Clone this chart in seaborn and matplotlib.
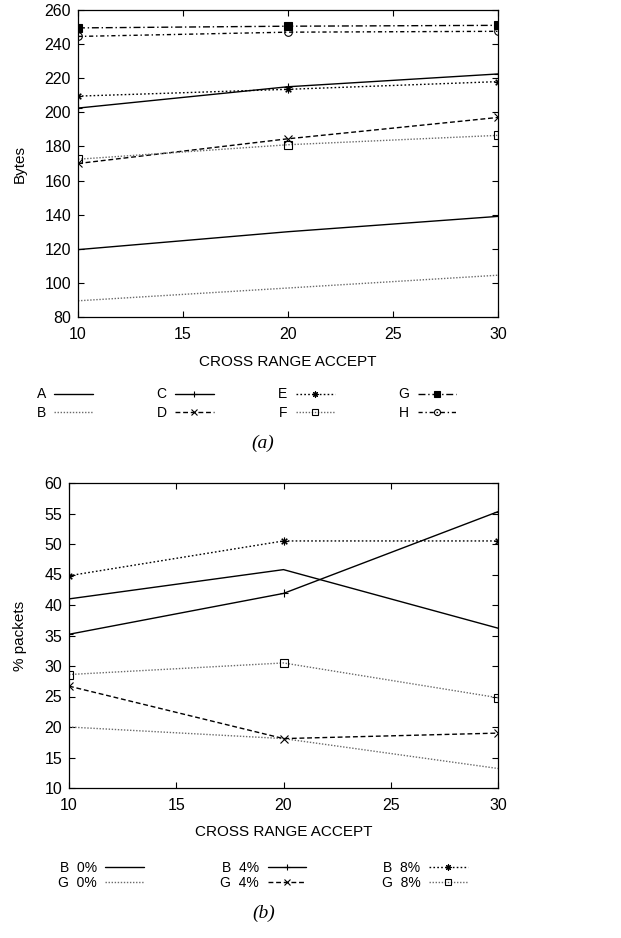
import matplotlib
matplotlib.use("Agg")
import matplotlib.pyplot as plt
import seaborn as sns

# ---------------- data ----------------
x_vals = [10, 20, 30]
xticks = [10, 15, 20, 25, 30]

# panel (a)
labels_a = ["A", "B", "C", "D", "E", "F", "G", "H"]
A = [119.5, 130.0, 139.0]
B = [89.5, 97.0, 104.5]
C = [202.5, 215.0, 222.5]
D = [170.0, 184.5, 197.0]
E = [209.5, 213.5, 218.0]
F = [172.5, 181.0, 186.5]
G = [249.5, 250.5, 251.0]
H = [244.5, 247.0, 247.5]
yticks_a = [80, 100, 120, 140, 160, 180, 200, 220, 240, 260]

# panel (b)
labels_b = ["B  0%", "G  0%", "B  4%", "G  4%", "B  8%", "G  8%"]
B0 = [41.0, 45.8, 36.2]
G0 = [20.0, 18.1, 13.2]
B4 = [35.2, 41.9, 55.3]
G4 = [26.7, 18.1, 19.0]
B8 = [44.8, 50.5, 50.5]
G8 = [28.6, 30.5, 24.8]
yticks_b = [10, 15, 20, 25, 30, 35, 40, 45, 50, 55, 60]

# ---------------- style ----------------
sns.set_style("ticks")
plt.rcParams["font.family"] = ["Liberation Sans", "DejaVu Sans"]
plt.rcParams["text.color"] = "black"
plt.rcParams["axes.labelcolor"] = "black"
plt.rcParams["xtick.color"] = "black"
plt.rcParams["ytick.color"] = "black"

W, Hpx = 621, 938
fig = plt.figure(figsize=(W / 100, Hpx / 100), dpi=100)

styles = [
    dict(color="black", linestyle="-", marker=None, mfc="black"),
    dict(color="#6a6a6a", linestyle=(0, (1, 1.2)), marker=None, mfc="none"),
    dict(color="black", linestyle="-", marker="+", mfc="black"),
    dict(color="black", linestyle=(0, (3.5, 2)), marker="x", mfc="black"),
    dict(color="black", linestyle=(0, (1.2, 1.6)), marker=(8, 2, 0), mfc="black"),
    dict(color="#6a6a6a", linestyle=(0, (1, 1.2)), marker="s", mfc="none"),
    dict(color="black", linestyle=(0, (5, 2, 1, 2)), marker="s", mfc="black"),
    dict(color="black", linestyle=(0, (3, 2, 1, 2)), marker="o", mfc="none"),
]


def px_ax(left, top, right, bottom):
    return fig.add_axes([left / W, 1 - bottom / Hpx, (right - left) / W, (bottom - top) / Hpx])


def draw(ax, series, ylim, yticks, ylabel, axw, axh, ylabx):
    handles = []
    for vals, st in zip(series, styles):
        sns.lineplot(x=x_vals, y=vals, ax=ax, color=st["color"], linestyle=st["linestyle"],
                     marker=st["marker"], markersize=5.5, markerfacecolor=st["mfc"],
                     markeredgecolor="black", markeredgewidth=0.8, linewidth=1.0,
                     legend=False)
        handles.append(ax.lines[-1])
    ax.set_xlim(10, 30)
    ax.set_ylim(*ylim)
    ax.set_xticks(xticks)
    ax.set_yticks(yticks)
    ax.tick_params(direction="in", length=4, width=0.8, top=True, right=True,
                   labelsize=11.5, pad=5, colors="black")
    ax.tick_params(axis="x", pad=7)
    for s in ax.spines.values():
        s.set_visible(True)
        s.set_linewidth(0.9)
        s.set_color("black")
    ax.set_xlabel("CROSS RANGE ACCEPT", fontsize=11, color="black")
    ax.set_ylabel(ylabel, fontsize=11, color="black")
    ax.xaxis.set_label_coords(0.5, -37.5 / axh)
    ax.yaxis.set_label_coords(ylabx / axw, 0.5)
    return handles


# panel (a)
ax1 = px_ax(78, 10, 498, 317)
h1 = draw(ax1, [A, B, C, D, E, F, G, H], (80, 260), yticks_a, "Bytes", 420, 307, 27 - 78)

# panel (b)
ax2 = px_ax(69, 483, 498, 788)
h2 = draw(ax2, [B0, G0, B4, G4, B8, G8], (10, 60), yticks_b, "% packets", 429, 305, 27 - 69)


def column_legend(handles, labels, xpx, ypx, fs, hl, htp, ls):
    leg = fig.legend(handles, labels, loc="upper left", bbox_to_anchor=(xpx / W, 1 - ypx / Hpx),
                     frameon=False, markerfirst=False, fontsize=fs, handlelength=hl,
                     handletextpad=htp, labelspacing=ls, borderpad=0, borderaxespad=0,
                     numpoints=1, markerscale=0.8)
    for t in leg.get_texts():
        t.set_color("black")
    return leg


for i, xc in enumerate([36.7, 156.7, 278.3, 398.3]):
    column_legend(h1[2 * i:2 * i + 2], labels_a[2 * i:2 * i + 2], xc, 387.5, 10, 2.8, 0.6, 0.3)

for i, xc in enumerate([58.3, 220.5, 381.7]):
    column_legend(h2[2 * i:2 * i + 2], labels_b[2 * i:2 * i + 2], xc, 860.5, 10, 2.8, 0.6, 0.12)

fig.text(263 / W, 1 - 443 / Hpx, "(a)", ha="center", va="center", fontsize=14,
         family="Liberation Serif", style="italic")
fig.text(264 / W, 1 - 913 / Hpx, "(b)", ha="center", va="center", fontsize=14,
         family="Liberation Serif", style="italic")

fig.savefig("out.png", dpi=100)
